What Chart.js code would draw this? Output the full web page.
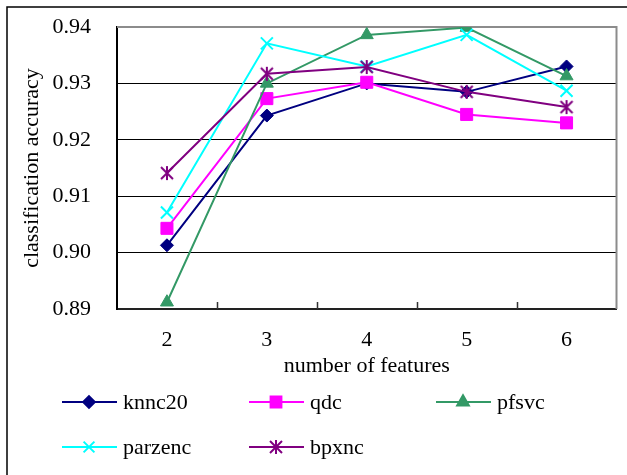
<!DOCTYPE html>
<html>
<head>
<meta charset="utf-8">
<script src="https://cdn.jsdelivr.net/npm/chart.js@4.4.1/dist/chart.umd.min.js"></script>
<style>
html, body { margin: 0; padding: 0; background: #fff; }
#wrap { width: 627px; height: 475px; }
</style>
</head>
<body>
<div id="wrap"><canvas id="myChart" width="627" height="475"></canvas></div>
<script>
// values
const features = ['2', '3', '4', '5', '6'];
const knnc20 = [0.9013, 0.9243, 0.9300, 0.9285, 0.9330];
const qdc = [0.9043, 0.9273, 0.9302, 0.9245, 0.9230];
const pfsvc = [0.8912, 0.9300, 0.9386, 0.9399, 0.9313];
const parzenc = [0.9071, 0.9371, 0.9330, 0.9386, 0.9287];
const bpxnc = [0.9141, 0.9317, 0.9329, 0.9285, 0.9258];

const serif = "'Liberation Serif', 'Times New Roman', serif";

// excel style star marker: an x with a vertical bar through it
function asteriskMarker(color, size) {
    const c = document.createElement('canvas');
    c.width = size;
    c.height = size;
    const g = c.getContext('2d');
    g.strokeStyle = color;
    g.lineWidth = 2;
    g.beginPath();
    g.moveTo(2, 2); g.lineTo(size - 2, size - 2);
    g.moveTo(size - 2, 2); g.lineTo(2, size - 2);
    g.moveTo(size / 2, 1); g.lineTo(size / 2, size - 1);
    g.stroke();
    return c;
}

const seriesList = [
    { label: 'knnc20', data: knnc20, color: '#000080', style: 'rectRot', r: 6.5 },
    { label: 'qdc', data: qdc, color: '#FF00FF', style: 'rect', r: 8.5 },
    { label: 'pfsvc', data: pfsvc, color: '#339966', style: 'triangle', r: 7.5 },
    { label: 'parzenc', data: parzenc, color: '#00FFFF', style: 'crossRot', r: 8.5 },
    { label: 'bpxnc', data: bpxnc, color: '#800080', style: asteriskMarker('#800080', 16), r: 8 }
];

const framePlugin = {
    id: 'frame',
    beforeDraw(chart) {
        const ctx = chart.ctx;
        ctx.save();
        ctx.fillStyle = '#fff';
        ctx.fillRect(0, 0, chart.width, chart.height);
        ctx.strokeStyle = '#000';
        ctx.lineWidth = 1.5;
        ctx.strokeRect(7, 7, chart.width + 20, chart.height + 20);
        ctx.restore();
    },
    beforeDatasetsDraw(chart) {
        const ctx = chart.ctx;
        const a = chart.chartArea;
        const x = chart.scales.x;
        ctx.save();
        // grey top and right edges of the plot box
        ctx.strokeStyle = '#8c8c8c';
        ctx.lineWidth = 2;
        ctx.beginPath();
        ctx.moveTo(a.left, a.top);
        ctx.lineTo(a.right, a.top);
        ctx.lineTo(a.right, a.bottom);
        ctx.stroke();
        // inward tick marks between categories
        ctx.strokeStyle = '#333';
        ctx.lineWidth = 1.5;
        ctx.beginPath();
        for (let i = 0; i < features.length - 1; i++) {
            const px = Math.round((x.getPixelForValue(i) + x.getPixelForValue(i + 1)) / 2) + 0.5;
            ctx.moveTo(px, a.bottom);
            ctx.lineTo(px, a.bottom - 7);
        }
        ctx.stroke();
        ctx.restore();
    },
    afterDraw(chart) {
        const ctx = chart.ctx;
        ctx.save();
        ctx.font = '22px ' + serif;
        ctx.textBaseline = 'middle';
        ctx.textAlign = 'left';
        chart.data.datasets.forEach((ds, i) => {
            const col = i % 3;
            const row = Math.floor(i / 3);
            const x0 = 62 + col * 187;
            const y0 = 402 + row * 45;
            ctx.strokeStyle = ds.borderColor;
            ctx.lineWidth = 2;
            ctx.beginPath();
            ctx.moveTo(x0, y0);
            ctx.lineTo(x0 + 55, y0);
            ctx.stroke();
            ctx.fillStyle = ds.borderColor;
            ctx.beginPath();
            Chart.helpers.drawPoint(ctx, {
                pointStyle: ds.pointStyle,
                radius: ds.pointRadius * 0.9,
                borderWidth: 2,
                rotation: 0
            }, x0 + 27, y0);
            if (ds.pointStyle === 'rectRot' || ds.pointStyle === 'rect' || ds.pointStyle === 'triangle') ctx.fill();
            ctx.fillStyle = '#000';
            ctx.fillText(ds.label, x0 + 61, y0 + 1);
        });
        ctx.restore();
    }
};

const ctx = document.getElementById('myChart').getContext('2d');
const myChart = new Chart(ctx, {
    type: 'line',
    data: {
        labels: features,
        datasets: seriesList.map((s, i) => ({
            label: s.label,
            data: s.data,
            borderColor: s.color,
            backgroundColor: s.color,
            pointBackgroundColor: s.color,
            pointBorderColor: s.color,
            pointStyle: s.style,
            pointRadius: s.r,
            pointBorderWidth: s.style === 'crossRot' ? 2 : 1,
            borderWidth: 2,
            tension: 0,
            fill: false,
            order: seriesList.length - i
        }))
    },
    options: {
        responsive: false,
        animation: false,
        layout: { padding: { top: 27, right: 5, left: 0, bottom: 0 } },
        plugins: {
            legend: { display: false },
            tooltip: { enabled: false }
        },
        scales: {
            x: {
                offset: true,
                grid: { drawOnChartArea: false, drawTicks: false, offset: true },
                border: { color: '#222', width: 2 },
                ticks: { color: '#000', font: { family: serif, size: 22 }, padding: 18 },
                title: {
                    display: true,
                    text: 'number of features',
                    color: '#000',
                    font: { family: serif, size: 22 },
                    padding: { top: 0, bottom: 96 }
                },
                afterFit(scale) {
                    scale.height = 166;
                    scale.paddingLeft = 0;
                    scale.paddingRight = 0;
                }
            },
            y: {
                min: 0.89,
                max: 0.94,
                ticks: {
                    stepSize: 0.01,
                    color: '#000',
                    font: { family: serif, size: 22 },
                    padding: 26,
                    callback: v => v.toFixed(2)
                },
                grid: { color: '#000', lineWidth: 1, drawTicks: false },
                border: { color: '#000', width: 2 },
                title: {
                    display: true,
                    text: 'classification accuracy',
                    color: '#000',
                    font: { family: serif, size: 22 },
                    padding: { top: 19, bottom: 0 }
                },
                afterFit(scale) {
                    scale.width = 117;
                    scale.paddingTop = 0;
                    scale.paddingBottom = 0;
                }
            }
        }
    },
    plugins: [framePlugin]
});
</script>
</body>
</html>
